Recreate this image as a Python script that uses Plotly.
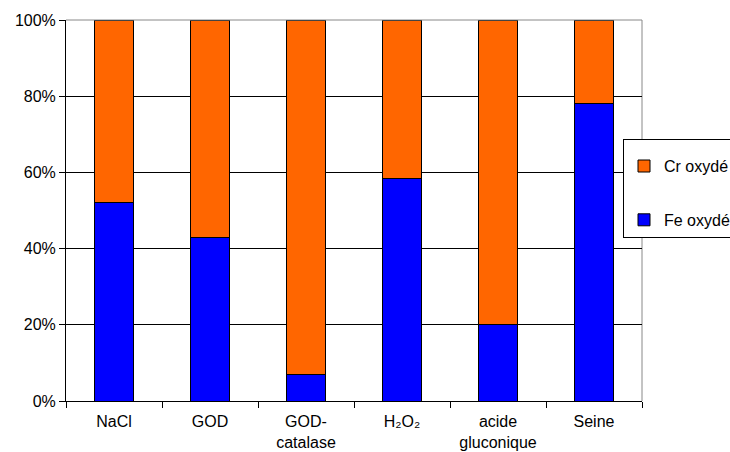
import plotly.graph_objects as go

categories = ["NaCl", "GOD", "GOD-<br>catalase", "H₂O₂", "acide<br>gluconique", "Seine"]
fe_oxyde = [52, 43, 7, 58.5, 20, 78]
cr_oxyde = [48, 57, 93, 41.5, 80, 22]
y_ticks = [0, 20, 40, 60, 80, 100]
y_tick_labels = ["0%", "20%", "40%", "60%", "80%", "100%"]

FONT = "Liberation Sans, Arial, sans-serif"

fig = go.Figure()
fig.add_trace(go.Bar(
    x=categories, y=fe_oxyde, name="Fe oxydé", legendgroup="fe", legendrank=2,
    marker=dict(color="#0000FF", line=dict(color="#000000", width=1)),
))
fig.add_trace(go.Bar(
    x=categories, y=cr_oxyde, name="Cr oxydé", legendgroup="cr", legendrank=1,
    marker=dict(color="#FF6600", line=dict(color="#000000", width=1)),
))

fig.update_layout(
    barmode="stack",
    bargap=0.6,
    width=730, height=452,
    margin=dict(l=66, r=88, t=20, b=51, autoexpand=False),
    paper_bgcolor="white", plot_bgcolor="white",
    font=dict(family=FONT, size=16, color="black"),
    legend=dict(
        x=(623 - 66) / 576, y=(401 - 139) / 381, xanchor="left", yanchor="top",
        bgcolor="white", bordercolor="black", borderwidth=1,
        traceorder="grouped", tracegroupgap=30,
        font=dict(family=FONT, size=16, color="black"),
        itemwidth=30,
        title=dict(text=" ", font=dict(size=7)),
    ),
    showlegend=True,
)

fig.update_xaxes(
    type="category", showline=True, linecolor="black", linewidth=1,
    ticks="outside", tickson="boundaries", ticklen=6, tickcolor="black",
    showgrid=False, ticklabelstandoff=6,
)
fig.update_yaxes(
    range=[0, 100], tickvals=y_ticks, ticktext=y_tick_labels,
    showline=True, linecolor="black", linewidth=1,
    ticks="outside", ticklen=6, tickcolor="black",
    showgrid=True, gridcolor="black", gridwidth=1, zeroline=False,
)

# plot-area frame (top and right edges in grey)
fig.add_shape(type="line", xref="paper", yref="paper", x0=0, x1=1, y0=1, y1=1,
              line=dict(color="#888888", width=1), layer="above")
fig.add_shape(type="line", xref="paper", yref="paper", x0=1, x1=1, y0=0, y1=1,
              line=dict(color="#888888", width=1), layer="below")

fig.write_html(
    "out.html",
    config={"displayModeBar": False},
    post_script="document.body.style.margin='0';document.body.style.overflow='hidden';",
)
